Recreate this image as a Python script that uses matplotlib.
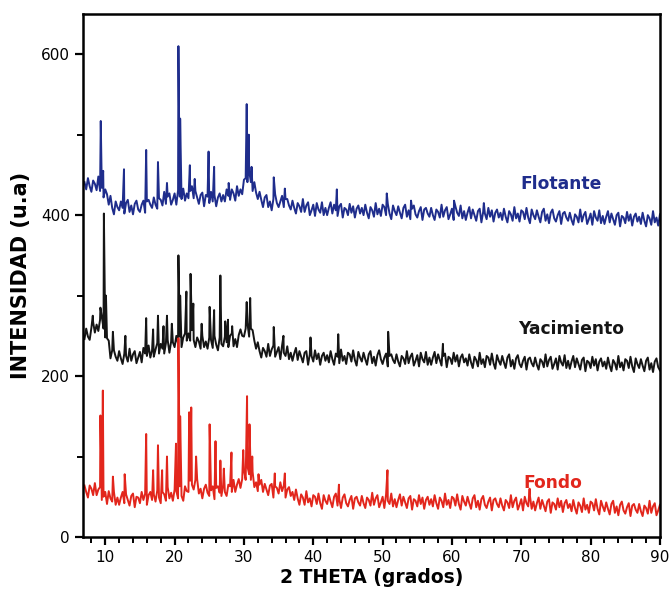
import numpy as np
import matplotlib
matplotlib.use("Agg")
import matplotlib.pyplot as plt

plt.rcParams['font.family'] = ['DejaVu Sans']

# 2-theta grid (degrees), one background reading every 0.25 deg
theta = np.arange(7.0, 90.001, 0.25)

# background intensities (20 values = 5 deg per row)
flotante_bg = [
    441, 432, 446, 436, 429, 443, 439, 431, 448, 430, 434, 422, 432, 426, 413, 424, 409, 401, 417, 410,
    406, 417, 409, 402, 415, 419, 404, 412, 401, 414, 418, 407, 404, 413, 418, 403, 417, 419, 413, 409,
    422, 413, 408, 421, 419, 412, 429, 414, 423, 427, 413, 419, 427, 413, 431, 423, 420, 433, 418, 427,
    421, 430, 436, 421, 430, 422, 414, 425, 428, 411, 425, 423, 415, 429, 417, 425, 411, 422, 427, 417,
    425, 417, 432, 424, 419, 432, 427, 418, 436, 424, 432, 426, 444, 446, 441, 455, 441, 430, 441, 428,
    420, 429, 419, 410, 422, 425, 410, 417, 406, 420, 426, 415, 410, 417, 424, 410, 420, 420, 412, 407,
    418, 409, 402, 415, 411, 404, 420, 404, 412, 416, 400, 406, 413, 399, 415, 407, 403, 416, 400, 409,
    400, 409, 416, 402, 413, 406, 399, 411, 414, 397, 409, 407, 400, 414, 403, 411, 397, 408, 412, 402,
    409, 400, 413, 403, 396, 410, 406, 398, 415, 401, 408, 399, 413, 410, 400, 414, 402, 395, 412, 405,
    400, 411, 403, 396, 409, 413, 398, 406, 395, 408, 412, 401, 397, 405, 410, 394, 407, 409, 402, 398,
    409, 400, 394, 407, 404, 397, 413, 398, 406, 410, 395, 401, 408, 394, 411, 403, 399, 412, 396, 405,
    394, 403, 410, 396, 407, 400, 393, 405, 408, 391, 404, 402, 395, 409, 398, 406, 392, 403, 407, 397,
    403, 394, 408, 398, 391, 405, 401, 393, 410, 396, 402, 392, 406, 404, 395, 409, 397, 390, 407, 400,
    395, 406, 398, 391, 404, 408, 393, 401, 390, 403, 407, 396, 392, 400, 405, 389, 402, 404, 397, 393,
    403, 394, 388, 401, 398, 391, 407, 392, 400, 404, 389, 395, 402, 388, 405, 397, 393, 406, 390, 399,
    389, 398, 405, 391, 402, 395, 388, 400, 403, 386, 399, 397, 390, 404, 393, 401, 387, 398, 402, 392,
    398, 389, 403, 393, 386, 400, 396, 388, 405, 391, 397, 387, 401,
]
yacimiento_bg = [
    246, 259, 249, 245, 260, 267, 254, 264, 256, 270, 274, 259, 248, 247, 244, 222, 232, 232, 224, 219,
    231, 222, 215, 228, 225, 218, 234, 219, 227, 231, 216, 223, 230, 217, 235, 228, 225, 238, 223, 232,
    224, 233, 241, 228, 240, 234, 228, 241, 245, 229, 243, 242, 236, 250, 240, 249, 236, 248, 253, 244,
    253, 244, 257, 245, 236, 248, 243, 234, 250, 236, 243, 234, 248, 245, 235, 250, 239, 232, 248, 240,
    237, 249, 242, 236, 250, 253, 237, 246, 236, 251, 258, 250, 249, 259, 266, 249, 259, 257, 244, 234,
    242, 231, 223, 235, 231, 224, 240, 225, 233, 238, 224, 230, 236, 221, 238, 229, 225, 237, 221, 229,
    219, 228, 235, 220, 231, 224, 217, 229, 231, 214, 227, 225, 218, 232, 221, 228, 214, 225, 229, 219,
    226, 217, 231, 221, 214, 228, 224, 216, 233, 219, 225, 215, 229, 227, 218, 232, 220, 213, 230, 223,
    218, 229, 221, 214, 227, 231, 216, 224, 213, 226, 232, 221, 215, 223, 228, 212, 225, 227, 220, 216,
    227, 218, 212, 225, 222, 215, 231, 216, 224, 228, 213, 219, 226, 212, 229, 221, 217, 230, 214, 223,
    214, 223, 230, 216, 227, 220, 213, 225, 228, 211, 224, 222, 215, 229, 218, 226, 212, 223, 227, 217,
    222, 213, 227, 217, 210, 224, 220, 212, 229, 215, 221, 211, 225, 223, 214, 228, 216, 209, 226, 219,
    214, 225, 217, 210, 223, 227, 212, 220, 209, 222, 226, 215, 211, 219, 224, 208, 221, 223, 216, 212,
    223, 214, 208, 221, 218, 211, 227, 212, 220, 224, 209, 215, 222, 208, 225, 217, 213, 226, 210, 219,
    209, 218, 225, 211, 222, 215, 208, 220, 223, 206, 219, 217, 210, 224, 213, 221, 207, 218, 222, 212,
    218, 209, 223, 213, 206, 220, 216, 208, 225, 211, 217, 207, 221, 219, 210, 224, 212, 205, 222, 215,
    210, 221, 213, 206, 219, 223, 208, 216, 205, 218, 222, 211, 207,
]
fondo_bg = [
    64, 56, 49, 64, 60, 52, 67, 52, 59, 62, 46, 50, 56, 41, 57, 48, 44, 56, 40, 49,
    40, 49, 56, 42, 53, 46, 39, 51, 54, 37, 50, 49, 42, 56, 46, 54, 40, 52, 56, 46,
    53, 44, 58, 49, 42, 56, 53, 45, 62, 48, 55, 45, 59, 57, 48, 63, 51, 45, 63, 57,
    56, 70, 65, 59, 71, 72, 54, 60, 48, 60, 65, 55, 51, 58, 63, 47, 61, 63, 55, 51,
    64, 56, 51, 65, 63, 56, 71, 56, 65, 72, 61, 72, 83, 71, 88, 78, 71, 81, 62, 68,
    57, 65, 71, 56, 66, 59, 52, 64, 66, 49, 63, 61, 54, 68, 57, 64, 49, 59, 62, 51,
    56, 46, 59, 48, 40, 53, 49, 40, 57, 43, 48, 38, 52, 50, 41, 54, 42, 35, 52, 45,
    41, 52, 44, 37, 50, 54, 39, 47, 36, 49, 53, 42, 38, 46, 51, 35, 48, 50, 43, 39,
    51, 42, 36, 49, 46, 39, 55, 40, 48, 52, 37, 43, 50, 36, 53, 45, 41, 54, 38, 47,
    37, 46, 53, 39, 50, 43, 36, 48, 51, 34, 47, 45, 38, 52, 41, 49, 35, 46, 50, 40,
    47, 38, 52, 42, 35, 49, 45, 37, 54, 40, 46, 36, 50, 48, 39, 53, 41, 34, 51, 44,
    39, 50, 42, 35, 48, 52, 37, 45, 34, 47, 51, 40, 36, 44, 49, 33, 46, 48, 41, 37,
    48, 39, 33, 46, 43, 36, 52, 37, 45, 49, 34, 40, 47, 33, 50, 42, 38, 51, 35, 44,
    33, 42, 49, 35, 46, 39, 32, 44, 47, 30, 43, 41, 34, 48, 37, 45, 31, 42, 46, 36,
    41, 32, 46, 36, 29, 43, 39, 31, 48, 34, 40, 30, 44, 42, 33, 47, 35, 28, 45, 38,
    32, 43, 35, 28, 41, 45, 30, 38, 27, 40, 44, 33, 29, 37, 42, 26, 39, 41, 34, 30,
    41, 32, 26, 39, 36, 29, 45, 30, 38, 42, 27, 33, 40,
]

# diffraction peaks: position (deg) and top intensity
flotante_pk_x = [9.35, 9.7, 12.7, 15.9, 17.6, 18.9, 20.55, 20.8, 22.2, 22.9,
                 24.9, 25.7, 27.8, 30.4, 30.7, 31.1, 34.3, 35.9, 43.4, 50.6,
                 54.1, 60.3, 64.6]
flotante_pk_y = [517, 455, 457, 481, 466, 440, 610, 520, 462, 445,
                 479, 460, 440, 538, 500, 460, 447, 433, 432, 427,
                 418, 418, 415]
yacimiento_pk_x = [8.2, 9.3, 9.8, 10.1, 11.1, 12.9, 15.9, 16.9, 17.6, 18.4,
                   18.9, 19.6, 20.55, 20.8, 21.7, 22.3, 22.7, 23.9, 25.05, 25.7,
                   26.6, 27.3, 27.7, 28.3, 30.4, 30.9, 34.3, 35.7, 39.6, 43.6,
                   50.8, 58.7]
yacimiento_pk_y = [275, 285, 402, 300, 255, 250, 272, 258, 275, 262,
                   275, 265, 350, 300, 305, 327, 290, 265, 286, 282,
                   325, 268, 270, 262, 292, 297, 261, 250, 248, 252,
                   255, 240]
fondo_pk_x = [9.3, 9.65, 11.1, 12.8, 15.9, 16.9, 17.6, 18.2, 18.9, 20.2,
              20.55, 20.8, 22.1, 22.4, 23.1, 25.05, 25.9, 26.6, 27.1, 28.2,
              29.9, 30.45, 30.8, 31.2, 32.1, 34.45, 35.9, 43.7, 50.7, 71.2]
fondo_pk_y = [151, 182, 75, 78, 128, 83, 114, 83, 100, 116,
              247, 150, 155, 161, 100, 140, 119, 95, 85, 105,
              108, 175, 140, 100, 78, 79, 79, 65, 83, 60]

series = [
    ("Flotante", flotante_bg, flotante_pk_x, flotante_pk_y, "#1f2d8c", 75.8, 439),
    ("Yacimiento", yacimiento_bg, yacimiento_pk_x, yacimiento_pk_y, "#151515", 77.2, 259),
    ("Fondo", fondo_bg, fondo_pk_x, fondo_pk_y, "#e2261c", 74.6, 67),
]

fig = plt.figure(figsize=(6.7, 5.95), dpi=100)
ax = fig.add_axes([0.124, 0.0975, 0.861, 0.879])

for name, bg, pkx, pky, col, tx, ty in series:
    x = np.concatenate([theta, pkx])
    y = np.concatenate([bg, pky])
    order = np.argsort(x, kind="stable")
    ax.plot(x[order], y[order], color=col, lw=1.4)
    ax.text(tx, ty, name, color=col, fontsize=12.3, fontweight="bold",
            ha="center", va="center")

ax.set_xlim(6.8, 90)
ax.set_ylim(0, 650)
ax.set_xticks(range(10, 91, 10))
ax.set_xticks(range(8, 91, 2), minor=True)
ax.set_yticks([0, 200, 400, 600])
ax.set_yticks([100, 300, 500], minor=True)
ax.tick_params(which="major", direction="out", length=6, width=1.6, labelsize=11)
ax.tick_params(which="minor", direction="out", length=4, width=1.4)
for s in ax.spines.values():
    s.set_linewidth(1.8)

ax.set_xlabel("2 THETA (grados)", fontsize=13.5, fontweight="bold", labelpad=2)
ax.set_ylabel("INTENSIDAD (u.a)", fontsize=15, fontweight="bold", labelpad=7)

plt.savefig("out.png", dpi=100)
